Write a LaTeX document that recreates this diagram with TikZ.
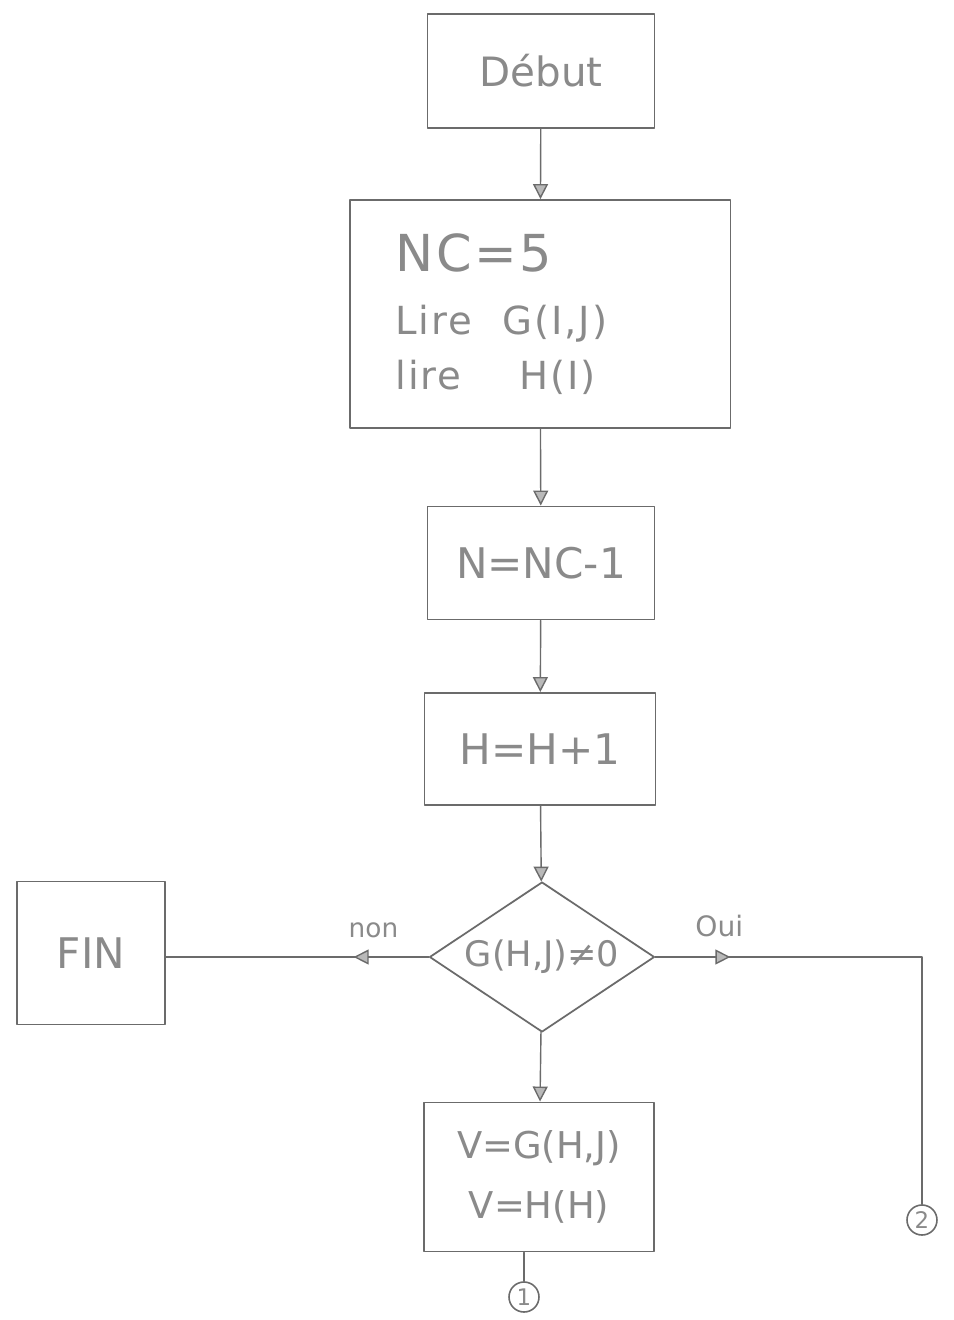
\documentclass[tikz,border=0pt]{standalone}
\usepackage{fontspec}
\setmainfont{DejaVu Sans}
\usetikzlibrary{arrows.meta,shapes.geometric,decorations.markings}
\definecolor{pencil}{HTML}{6B6B6B}
\definecolor{lead}{HTML}{8A8A8A}

\begin{document}
\begin{tikzpicture}[x=0.02cm,y=-0.02cm,line cap=round,line join=round,
    box/.style={draw=pencil,line width=1.1pt,text=lead,inner sep=0pt},
    test/.style={diamond,draw=pencil,line width=1pt,text=lead,inner sep=0pt,shape aspect=1.5},
    link/.style={circle,draw=pencil,line width=.9pt,text=lead,inner sep=0pt,minimum size=.6cm,font=\fontsize{13}{13}\selectfont},
    flow/.style={draw=pencil,line width=.8pt},
    tip/.style={-{Triangle[length=3mm,width=3mm,fill=lead!60]}},
    midtip/.style={postaction={decorate},decoration={markings,
      mark=at position 1.5cm with {\arrow{Triangle[length=3mm,width=3mm,fill=lead!60]}}}}]
  \path[use as bounding box] (0,0) rectangle (954,1320);
  \fill[white] (0,0) rectangle (954,1320);

  % main column
  \node[box,minimum width=4.54cm,minimum height=2.28cm,font=\fontsize{23}{25}\selectfont] (debut) at (541,71) {Début};
  \node[box,minimum width=7.62cm,minimum height=4.56cm,inner xsep=.92cm,text width=5.78cm,align=left,
    font=\fontsize{22}{31}\selectfont\addfontfeature{LetterSpace=5}] (lire) at (540,314)
    {\rule{0pt}{10pt}{\fontsize{29}{30}\selectfont NC=5}\\[5pt] Lire\;\, G(I,J)\\ lire\quad\, H(I)};
  \node[box,minimum width=4.54cm,minimum height=2.26cm,font=\fontsize{24}{26}\selectfont] (nval) at (541,563) {N=NC-1};
  \node[box,minimum width=4.62cm,minimum height=2.24cm,font=\fontsize{24}{26}\selectfont] (hinc) at (540,749) {H=H+1};
  \node[test,minimum width=4.5cm,minimum height=3cm,font=\fontsize{20}{22}\selectfont] (cond) at (542,957) {G(H,J)≠0};
  \node[box,minimum width=4.6cm,minimum height=2.98cm,align=center,font=\fontsize{21}{34}\selectfont] (vset) at (539,1177) {V=G(H,J)\\V=H(H)};

  % exits
  \node[box,minimum width=2.96cm,minimum height=2.86cm,font=\fontsize{24}{26}\selectfont] (fin) at (91,953) {FIN};
  \node[link] (one) at (524,1297) {1};
  \node[link] (two) at (922,1220) {2};

  \draw[flow,tip] (debut) -- (lire);
  \draw[flow,tip] (lire) -- (nval);
  \draw[flow,tip] (nval) -- (hinc);
  \draw[flow,tip] (hinc) -- (cond);
  \draw[flow,tip] (cond) -- (vset);
  \draw[flow] (one.north |- vset.south) -- (one.north);
  \draw[flow,midtip] (cond.west) -- node[pos=.21,above=7pt,text=lead,font=\fontsize{15}{15}\selectfont] (non) {non} (fin.east |- cond.west);
  \draw[flow,midtip] (cond.east) -| node[pos=.12,above=8pt,text=lead,font=\fontsize{16}{16}\selectfont] (oui) {Oui} (two.north);
\end{tikzpicture}
\end{document}
